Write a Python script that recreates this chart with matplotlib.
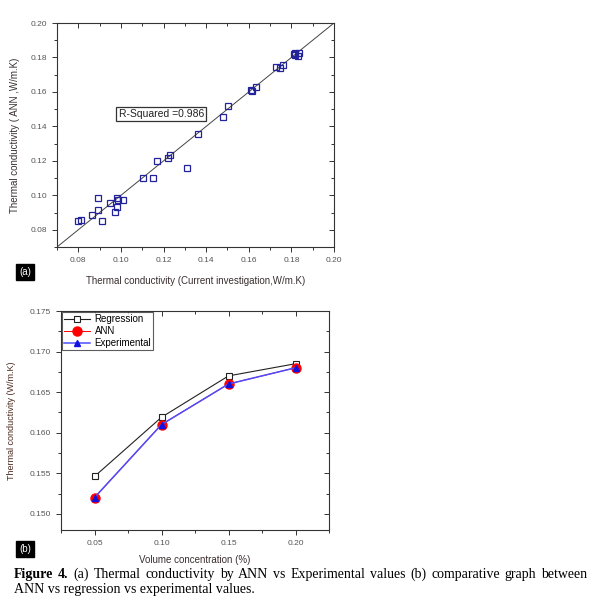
import numpy as np
import matplotlib.pyplot as plt
from matplotlib.ticker import MultipleLocator, NullFormatter

# (a) ANN vs measured thermal conductivity
exp_k = [0.0800, 0.0813, 0.0863, 0.0891, 0.0891, 0.0911, 0.0950, 0.0972, 0.0982,
         0.0982, 0.0985, 0.1010, 0.1103, 0.1150, 0.1171, 0.1220, 0.1231, 0.1309,
         0.1361, 0.1479, 0.1502, 0.1612, 0.1617, 0.1632, 0.1726, 0.1748, 0.1761,
         0.1811, 0.1817, 0.1831, 0.1836, 0.1819]
ann_k = [0.0848, 0.0854, 0.0887, 0.0916, 0.0986, 0.0848, 0.0957, 0.0906, 0.0935,
         0.0984, 0.0970, 0.0974, 0.1098, 0.1098, 0.1197, 0.1218, 0.1233, 0.1156,
         0.1357, 0.1456, 0.1516, 0.1612, 0.1603, 0.1628, 0.1744, 0.1736, 0.1755,
         0.1821, 0.1827, 0.1806, 0.1827, 0.1815]
r2_text = "R-Squared =0.986"

# (b) comparison vs volume concentration
conc = [0.05, 0.10, 0.15, 0.20]
regression = [0.1546, 0.1619, 0.1670, 0.1685]
ann = [0.1520, 0.1610, 0.1660, 0.1680]
experimental = [0.1520, 0.1610, 0.1660, 0.1680]

caption1 = "(a) Thermal conductivity by ANN vs Experimental values (b) comparative graph between"
caption2 = "ANN vs regression vs experimental values."

plt.rcParams['font.family'] = ['Liberation Sans', 'DejaVu Sans']

fig = plt.figure(figsize=(6.13, 6.0), dpi=100)
ax1 = fig.add_axes([57/613, 1 - 247/600, 277/613, 224/600])
ax2 = fig.add_axes([61/613, 1 - 530/600, 268/613, 219/600])

tick_col = '#555555'
lab_col = '#3a2f2f'
spine_col = '#333333'


def style_axis(ax, xmaj, xmin, ymaj, ymin):
    # outward ticks on bottom/left, inward ticks on top/right (Origin look)
    ax.set_xticks(xmaj)
    ax.xaxis.set_minor_locator(MultipleLocator(xmin))
    ax.yaxis.set_major_locator(MultipleLocator(ymaj))
    ax.yaxis.set_minor_locator(MultipleLocator(ymin))
    ax.tick_params(which='both', direction='out', width=0.7,
                   labelsize=6, labelcolor=tick_col, color=spine_col)
    ax.tick_params(which='major', length=3.5)
    ax.tick_params(which='minor', length=2)
    for sp in ax.spines.values():
        sp.set_linewidth(0.8)
        sp.set_color(spine_col)
    top = ax.secondary_xaxis('top')
    top.set_xticks(xmaj)
    top.xaxis.set_minor_locator(MultipleLocator(xmin))
    top.xaxis.set_major_formatter(NullFormatter())
    top.tick_params(which='both', direction='in', width=0.7, color=spine_col)
    top.tick_params(which='major', length=3.5)
    top.tick_params(which='minor', length=2)
    top.spines['top'].set_visible(False)
    right = ax.secondary_yaxis('right')
    right.yaxis.set_major_locator(MultipleLocator(ymaj))
    right.yaxis.set_minor_locator(MultipleLocator(ymin))
    right.yaxis.set_major_formatter(NullFormatter())
    right.tick_params(which='both', direction='in', width=0.7, color=spine_col)
    right.tick_params(which='major', length=3.5)
    right.tick_params(which='minor', length=2)
    right.spines['right'].set_visible(False)


# panel (a)
ax1.plot([0.07, 0.20], [0.07, 0.20], color='#444444', lw=0.7)
ax1.plot(exp_k, ann_k, ls='none', marker='s', mfc='none', mec='#22229a',
         ms=5, mew=0.9)
ax1.set_xlim(0.07, 0.20)
ax1.set_ylim(0.07, 0.20)
style_axis(ax1, [0.08, 0.10, 0.12, 0.14, 0.16, 0.18, 0.20], 0.01, 0.02, 0.01)
ax1.xaxis.set_major_formatter(lambda v, p: f'{v:.2f}')
ax1.yaxis.set_major_formatter(lambda v, p: f'{v:.2f}')
ax1.set_xlabel('Thermal conductivity (Current investigation,W/m.K)',
               fontsize=7, color=lab_col, labelpad=9)
ax1.set_ylabel('Thermal conductivity ( ANN ,W/m.K)', fontsize=7,
               color=lab_col, labelpad=8)
ax1.text(0.1189, 0.1473, r2_text, fontsize=7.5, ha='center', va='center',
         color='#222222',
         bbox=dict(boxstyle='square,pad=0.2', fc='white', ec='#333333', lw=0.9))

# panel (b)
ax2.plot(conc, regression, color='#222222', lw=0.8, marker='s', mfc='white',
         mec='#222222', ms=4, mew=0.8, label='Regression')
ax2.plot(conc, ann, color='red', lw=0.7, marker='o', mfc='red', mec='red',
         ms=6.5, label='ANN')
ax2.plot(conc, experimental, color='#4d4dff', lw=1.1, marker='^', mfc='#1010e0',
         mec='#1010e0', ms=4.5, label='Experimental')
ax2.set_xlim(0.025, 0.225)
ax2.set_ylim(0.148, 0.175)
style_axis(ax2, conc, 0.025, 0.005, 0.0025)
ax2.xaxis.set_major_formatter(lambda v, p: f'{v:.2f}')
ax2.yaxis.set_major_formatter(lambda v, p: f'{v:.3f}')
ax2.set_xlabel('Volume concentration (%)', fontsize=7, color=lab_col,
               labelpad=6)
ax2.set_ylabel('Thermal conductivity (W/m.K)', fontsize=6.5, color='#4a2a20',
               labelpad=10)
leg = ax2.legend(loc='upper left', fontsize=7, frameon=True, fancybox=False,
                 borderaxespad=0.15, handlelength=2.6, handletextpad=0.5,
                 borderpad=0.2, labelspacing=0.2)
leg.get_frame().set_edgecolor('#333333')
leg.get_frame().set_linewidth(0.8)

# panel tags
fig.text(25/613, 1 - 272/600, '(a)', color='white', fontsize=7, ha='center',
         va='center', bbox=dict(boxstyle='square,pad=0.3', fc='black', ec='black'))
fig.text(25/613, 1 - 549/600, '(b)', color='white', fontsize=7, ha='center',
         va='center', bbox=dict(boxstyle='square,pad=0.3', fc='black', ec='black'))

# caption, first line justified between x=14 and x=587 px
cap_font = ['Liberation Serif', 'DejaVu Serif']
cap_size = 10
renderer = fig.canvas.get_renderer()
words = [('Figure', 'bold'), ('4.', 'bold')] + [(w, 'normal') for w in caption1.split()]
texts = []
for w, wt in words:
    t = fig.text(0, 1 - 578/600, w, fontsize=cap_size, weight=wt,
                 family=cap_font, ha='left', va='baseline')
    texts.append(t)
widths = [t.get_window_extent(renderer).width for t in texts]
left, right = 14, 587
gap = (right - left - sum(widths)) / (len(texts) - 1)
x = left
for t, w in zip(texts, widths):
    t.set_x(x / 613)
    x += w + gap
fig.text(14/613, 1 - 593/600, caption2, fontsize=cap_size, family=cap_font,
         ha='left', va='baseline')

fig.savefig('out.png', dpi=100)
